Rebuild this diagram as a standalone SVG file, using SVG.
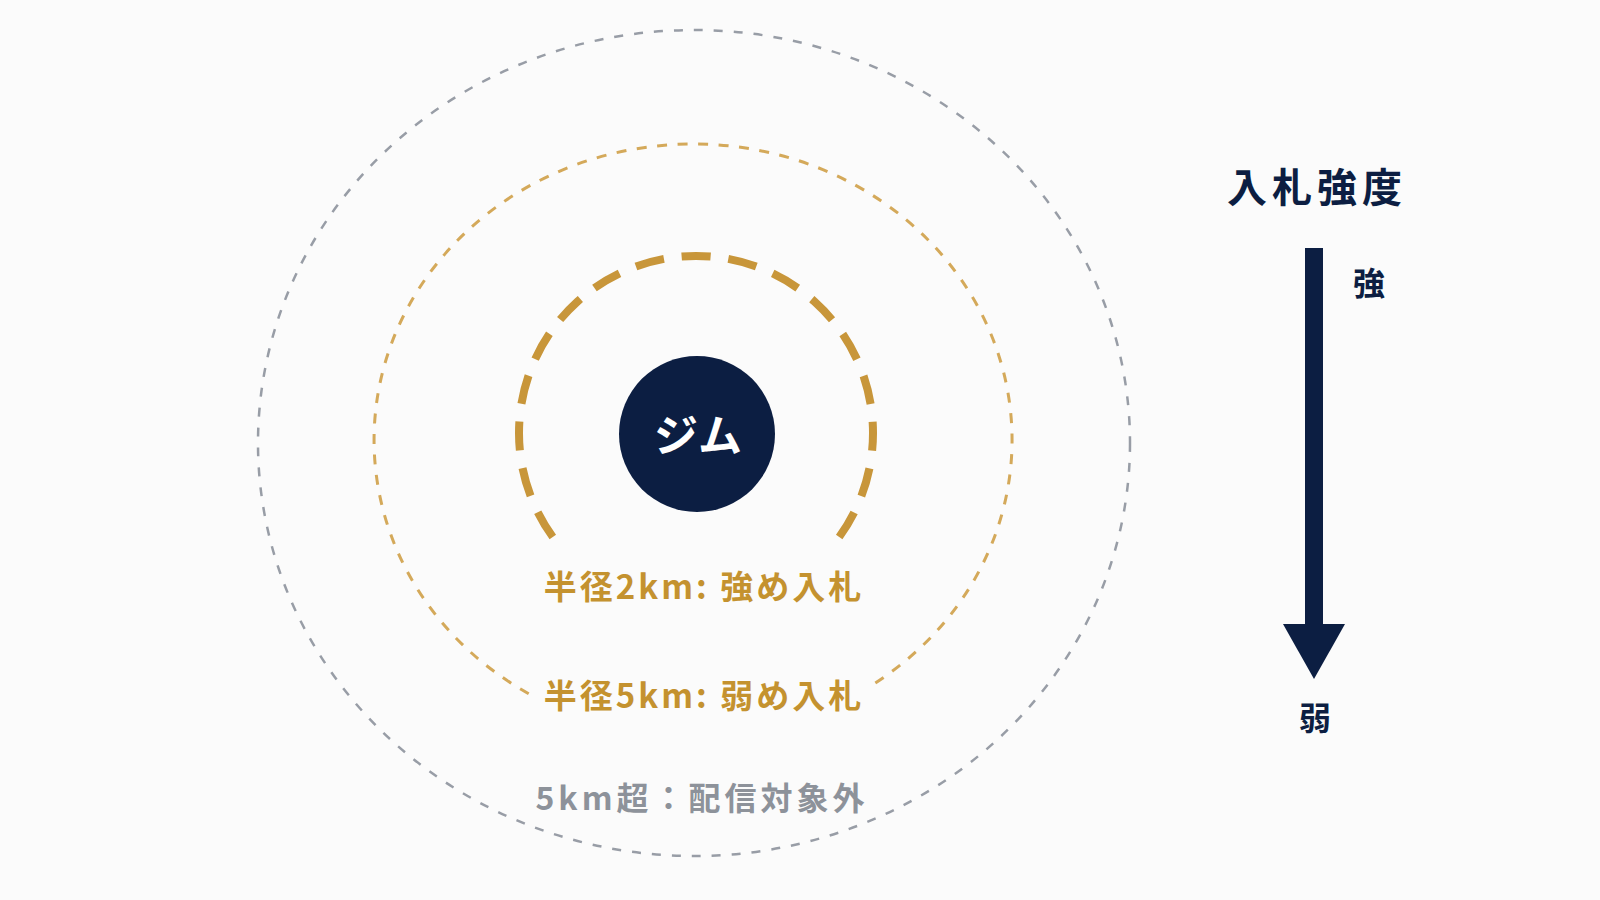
<svg xmlns="http://www.w3.org/2000/svg" width="1600" height="900" viewBox="0 0 1600 900">
  <style>
    .jp { font-family: "Noto Sans CJK JP", "Noto Sans", "Liberation Sans", sans-serif; }
    .gold-label { fill: #C4922F; font-size: 33px; font-weight: 700; letter-spacing: 3px; }
    .gray-label { fill: #8D929A; font-size: 32px; font-weight: 700; letter-spacing: 4px; }
    .navy-text { fill: #0C1E42; font-weight: 700; }
  </style>
  <rect x="0" y="0" width="1600" height="900" fill="#FBFBFB"/>

  <g id="zone-out">
    <ellipse cx="694" cy="443" rx="436" ry="413" fill="none" stroke="#989DA6" stroke-width="2.5" stroke-dasharray="9 11"/>
    <text class="jp gray-label" x="702" y="810" text-anchor="middle">5km超：配信対象外</text>
  </g>

  <g id="zone-5km">
    <path d="M 528.7 693.7 A 319 296 0 1 1 873.2 684.3" fill="none" stroke="#D4A95A" stroke-width="3" stroke-dasharray="10 10.5"/>
    <text class="jp gold-label" x="704" y="708" text-anchor="middle">半径5km: 弱め入札</text>
  </g>

  <g id="zone-2km">
    <path d="M 552.8 537 A 177 177 0 1 1 839.2 537" fill="none" stroke="#C8963A" stroke-width="8" stroke-dasharray="29 17.84"/>
    <text class="jp gold-label" x="704" y="599" text-anchor="middle">半径2km: 強め入札</text>
  </g>

  <g id="node-gym">
    <circle cx="697" cy="434" r="78" fill="#0C1E42"/>
    <text class="jp" x="698" y="452" text-anchor="middle" fill="#FFFFFF" font-size="44" font-weight="700">ジム</text>
  </g>

  <g id="legend">
    <text class="jp navy-text" x="1317" y="202" text-anchor="middle" font-size="40" letter-spacing="5">入札強度</text>
    <text class="jp navy-text" x="1369" y="295" text-anchor="middle" font-size="32">強</text>
    <text class="jp navy-text" x="1315" y="730" text-anchor="middle" font-size="32">弱</text>
  </g>

  <g id="connectors">
    <rect x="1305" y="248" width="18" height="378" fill="#0C1E42"/>
    <polygon points="1283,624 1345,624 1314,679" fill="#0C1E42"/>
  </g>
</svg>
